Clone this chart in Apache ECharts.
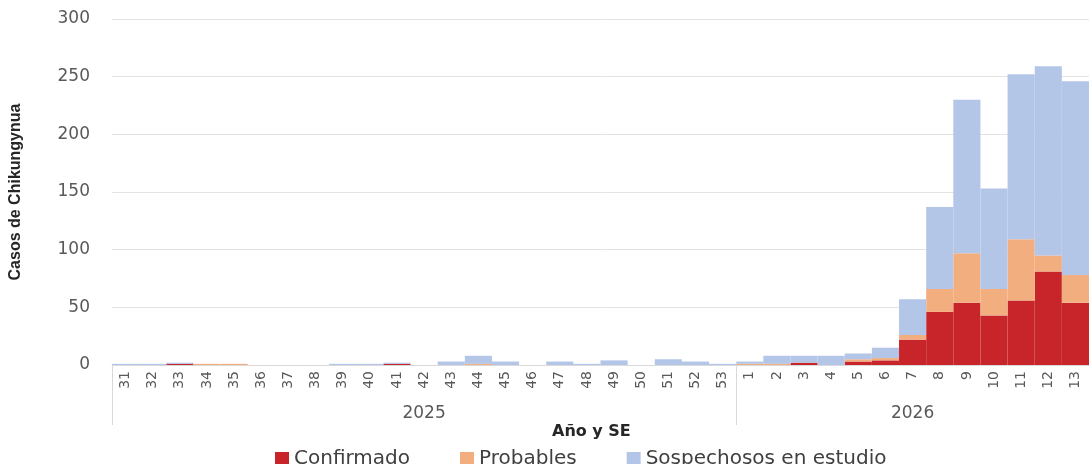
<!DOCTYPE html>
<html>
<head>
<meta charset="utf-8">
<script src="https://cdn.jsdelivr.net/npm/echarts@6/dist/echarts.min.js"></script>
<style>
html,body{margin:0;padding:0;background:#fff;}
#c{width:1089px;height:464px;}
</style>
</head>
<body>
<div id="c"></div>
<script>
// Epidemiological weeks (SE) per year
const weeks2025 = ['31','32','33','34','35','36','37','38','39','40','41','42','43','44','45','46','47','48','49','50','51','52','53'];
const weeks2026 = ['1','2','3','4','5','6','7','8','9','10','11','12','13'];
const years = ['2025','2026'];

// Cases by classification (2025 weeks 31-53, then 2026 weeks 1-13)
const confirmado = [0,0,1,0,0,0,0,0,0,0,1,0,0,0,0,0,0,0,0,0,0,0,0,
                    0,0,2,0,3,4,22,46,54,43,56,81,54];
const probables  = [0,0,0,1,1,0,0,0,0,0,0,0,0,1,0,0,0,0,0,0,0,0,0,
                    1,1,0,0,2,2,4,20,43,23,53,14,24];
const sospechosos= [1,1,1,0,0,0,0,0,1,1,1,0,3,7,3,0,3,1,4,0,5,3,1,
                    2,7,6,8,5,9,31,71,133,87,143,164,168];

const yTicks = [0,50,100,150,200,250,300];

const cats = weeks2025.map(w => years[0] + '|' + w).concat(weeks2026.map(w => years[1] + '|' + w));
const groupStart = [0, weeks2025.length];
const groupMid = [Math.floor(weeks2025.length / 2), weeks2025.length + Math.floor(weeks2026.length / 2)];

const FONT = 'DejaVu Sans';
const chart = echarts.init(document.getElementById('c'), null, {renderer: 'canvas'});
chart.setOption({
  animation: false,
  backgroundColor: '#ffffff',
  textStyle: {fontFamily: FONT},
  title: {
    text: 'Año y SE',
    left: 547, top: 419,
    textStyle: {fontFamily: FONT, fontSize: 16, fontWeight: 'bold', color: '#262626'}
  },
  legend: {
    data: ['Confirmado','Probables','Sospechosos en estudio'],
    left: 270, top: 444,
    icon: 'rect', itemWidth: 14, itemHeight: 14, itemGap: 50,
    textStyle: {fontFamily: FONT, fontSize: 20, color: '#404040'}
  },
  grid: {left: 112, right: -13, top: 19, bottom: 99, containLabel: false},
  xAxis: [{
    type: 'category',
    data: cats,
    boundaryGap: true,
    axisLine: {show: true, lineStyle: {color: '#d9d9d9', width: 1}},
    axisTick: {
      show: true, length: 60,
      interval: (i) => groupStart.indexOf(i) >= 0,
      lineStyle: {color: '#d9d9d9', width: 1}
    },
    axisLabel: {
      interval: 0, rotate: 90, margin: 6,
      fontFamily: FONT, fontSize: 14, color: '#595959',
      formatter: v => v.split('|')[1]
    },
    splitLine: {show: false}
  }, {
    type: 'category',
    data: cats,
    position: 'bottom',
    offset: 38,
    boundaryGap: true,
    axisLine: {show: false},
    axisTick: {show: false},
    axisLabel: {
      interval: (i) => groupMid.indexOf(i) >= 0,
      margin: 2,
      fontFamily: FONT, fontSize: 17, color: '#595959',
      formatter: v => v.split('|')[0]
    }
  }],
  yAxis: {
    type: 'value',
    min: yTicks[0], max: yTicks[yTicks.length - 1], interval: 50,
    name: 'Casos de Chikungynua',
    nameLocation: 'middle', nameGap: 88, nameRotate: 90,
    nameTextStyle: {fontFamily: 'Liberation Sans', fontSize: 16, fontWeight: 'bold', color: '#262626'},
    axisLine: {show: false},
    axisTick: {show: false},
    axisLabel: {margin: 22, fontFamily: FONT, fontSize: 17, color: '#595959'},
    splitLine: {lineStyle: {color: '#e3e3e3', width: 1}}
  },
  series: [
    {name: 'Confirmado', type: 'bar', stack: 'c', data: confirmado, barCategoryGap: '0%', itemStyle: {color: '#c8252a'}},
    {name: 'Probables', type: 'bar', stack: 'c', data: probables, barCategoryGap: '0%', itemStyle: {color: '#f3ae80'}},
    {name: 'Sospechosos en estudio', type: 'bar', stack: 'c', data: sospechosos, barCategoryGap: '0%', itemStyle: {color: '#b4c6e7'}}
  ]
});
</script>
</body>
</html>
